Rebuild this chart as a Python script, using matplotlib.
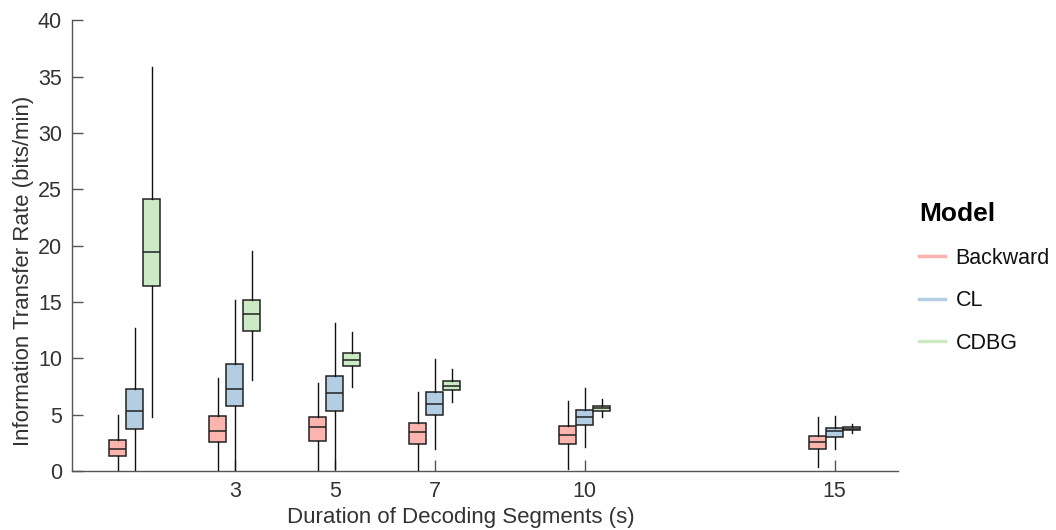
import matplotlib

matplotlib.use("Agg")
import matplotlib.pyplot as plt
from matplotlib.lines import Line2D

plt.rcParams["font.family"] = ["Liberation Sans", "DejaVu Sans"]

durations = [1, 3, 5, 7, 10, 15]
tick_labels = ["3", "5", "7", "10", "15"]
models = ["Backward", "CL", "CDBG"]
colors = ["#FBB4AE", "#B3CDE3", "#CCEBC5"]

# five-number summaries, one entry per duration
backward_lo = [0.0, 0.0, 0.0, 0.0, 0.2, 0.36]
backward_q1 = [1.32, 2.6, 2.69, 2.45, 2.45, 2.0]
backward_med = [1.98, 3.6, 3.94, 3.43, 3.22, 2.63]
backward_q3 = [2.77, 4.86, 4.78, 4.28, 3.97, 3.13]
backward_hi = [5.0, 8.3, 7.8, 7.05, 6.24, 4.84]

cl_lo = [0.0, 0.0, 0.2, 2.0, 2.15, 2.0]
cl_q1 = [3.78, 5.8, 5.34, 4.96, 4.12, 3.07]
cl_med = [5.3, 7.3, 6.93, 5.97, 4.78, 3.52]
cl_q3 = [7.3, 9.5, 8.45, 6.98, 5.43, 3.79]
cl_hi = [12.7, 15.2, 13.1, 9.97, 7.37, 4.93]

cdbg_lo = [4.77, 8.1, 7.5, 6.12, 4.78, 3.37]
cdbg_q1 = [16.4, 12.4, 9.3, 7.19, 5.37, 3.64]
cdbg_med = [19.4, 13.9, 9.9, 7.58, 5.58, 3.76]
cdbg_q3 = [24.1, 15.2, 10.5, 7.97, 5.76, 3.88]
cdbg_hi = [35.8, 19.5, 12.3, 9.07, 6.39, 4.18]

summaries = [
    (backward_lo, backward_q1, backward_med, backward_q3, backward_hi),
    (cl_lo, cl_q1, cl_med, cl_q3, cl_hi),
    (cdbg_lo, cdbg_q1, cdbg_med, cdbg_q3, cdbg_hi),
]

text_color = "#333333"
fig = plt.figure(figsize=(10.56, 5.30), dpi=100)
ax = fig.add_axes([0.068, 0.111, 0.782, 0.851])

width = 0.34
for k, (lo, q1, med, q3, hi) in enumerate(summaries):
    stats = [
        dict(whislo=lo[i], q1=q1[i], med=med[i], q3=q3[i], whishi=hi[i], fliers=[])
        for i in range(len(durations))
    ]
    pos = [d + (k - 1) * width for d in durations]
    ax.bxp(
        stats,
        positions=pos,
        widths=width,
        patch_artist=True,
        showcaps=False,
        showfliers=False,
        boxprops=dict(facecolor=colors[k], edgecolor="#222222", linewidth=1.1),
        medianprops=dict(color="#222222", linewidth=1.1),
        whiskerprops=dict(color="#111111", linewidth=1.0),
        manage_ticks=False,
        zorder=3,
    )

ax.set_xlim(-0.26, 16.26)
ax.set_ylim(0, 40)
ax.set_xticks([3, 5, 7, 10, 15])
ax.set_xticklabels(tick_labels)
ax.set_yticks(range(0, 41, 5))
for side in ["top", "right"]:
    ax.spines[side].set_visible(False)
for side in ["left", "bottom"]:
    ax.spines[side].set_color("#555555")
    ax.spines[side].set_linewidth(1.0)
ax.tick_params(direction="in", length=8, width=1.0, color="#555555",
               labelsize=15.5, labelcolor=text_color)
ax.tick_params(axis="x", pad=7)
ax.tick_params(axis="y", pad=7)
ax.set_xlabel("Duration of Decoding Segments (s)", fontsize=16, color=text_color)
ax.set_ylabel("Information Transfer Rate (bits/min)", fontsize=16, color=text_color)
ax.xaxis.set_label_coords(0.471, -0.080)
ax.yaxis.set_label_coords(-0.046, 0.443)

handles = [Line2D([], [], color=c, linewidth=2.5) for c in colors]
leg = fig.legend(
    handles, models, title="Model", loc="upper left",
    bbox_to_anchor=(0.852, 0.655), frameon=False, fontsize=15.5,
    handlelength=1.2, labelspacing=1.0, handletextpad=0.5,
    title_fontproperties=dict(weight="bold", size=19),
)
leg._legend_box.align = "left"
for t in leg.get_texts():
    t.set_color("#111111")

fig.savefig("out.png", dpi=100)
